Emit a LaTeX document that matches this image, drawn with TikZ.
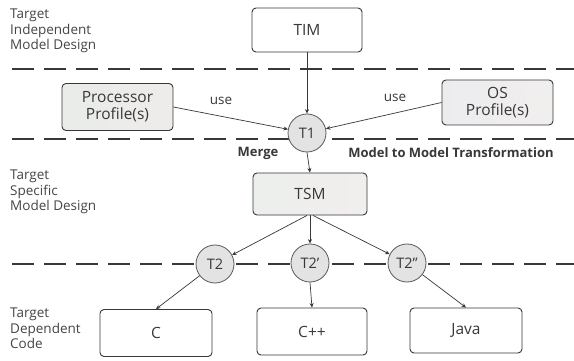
\documentclass[tikz,border=0pt]{standalone}
\usepackage{fontspec}
\setmainfont{Open Sans}
\usetikzlibrary{arrows.meta}
\definecolor{ink}{HTML}{383838}
\definecolor{lblc}{HTML}{454545}
\begin{document}
\begin{tikzpicture}[x=1pt,y=-1pt,
  box/.style={draw=ink, rounded corners=4pt, line width=0.9pt, minimum width=110pt, minimum height=44pt, align=center, font=\fontsize{15.5}{17}\selectfont, text=ink, inner sep=1pt},
  tcirc/.style={circle, draw=gray!70!black, fill=gray!22, minimum size=38pt, inner sep=0pt, font=\fontsize{14.5}{16}\selectfont, text=ink, line width=0.8pt},
  sepline/.style={draw=ink, line width=2.4pt, dash pattern=on 22pt off 10pt},
  lbl/.style={anchor=north west, align=left, font=\fontsize{13.5}{15.5}\selectfont, text=lblc, inner sep=0pt},
  small/.style={font=\fontsize{13}{15}\selectfont\bfseries, text=ink, inner sep=0pt},
  usel/.style={font=\fontsize{13.5}{15}\selectfont, text=ink, inner sep=0pt},
  conn/.style={draw=ink, line width=0.7pt, -{Stealth[length=4.5pt,width=4pt]}}
]
\useasboundingbox[fill=white] (0,0) rectangle (574,361);

% separators
\draw[sepline] (12,69) -- (574,69);
\draw[sepline] (12,139) -- (574,139);
\draw[sepline] (12,264) -- (574,264);

% side labels
\node[lbl] (lbl1) at (10,9) {Target\\Independent\\Model Design};
\node[lbl] (lbl2) at (10,170) {Target\\Specific\\Model Design};
\node[lbl] (lbl3) at (10,308) {Target\\Dependent\\Code};

% nodes
\node[box] (TIM) at (307,30) {TIM};
\node[box, minimum width=111pt, minimum height=47pt, left color=green!8!gray!16, right color=red!10!gray!14] (PP) at (117.5,107) {Processor\\Profile(s)};
\node[box, minimum width=111pt, minimum height=45pt, left color=red!14!blue!8!gray!14, right color=green!6!red!12!gray!12] (OS) at (497.5,102.5) {OS\\Profile(s)};
\node[tcirc] (T1) at (307,133) {T1};
\node[box, minimum width=114pt, minimum height=42pt, left color=green!10!gray!14, right color=red!12!gray!12] (TSM) at (310,194) {TSM};
\node[tcirc] (T2) at (215,264) {T2};
\node[tcirc] (T2a) at (310,263) {T2’};
\node[tcirc] (T2b) at (407,263) {T2”};
\node[box, minimum width=112pt, minimum height=47pt] (C) at (156,333) {C};
\node[box, minimum width=110pt, minimum height=47pt] (Cpp) at (312,331.5) {C++};
\node[box, minimum width=112pt, minimum height=45pt] (Java) at (466,330.5) {Java};

% labels
\node[usel] (use1) at (221,101) {use};
\node[usel] (use2) at (395,98) {use};
\node[small] (merge) at (258,153) {Merge};
\node[small] (m2m) at (451,153) {Model to Model Transformation};

% connectors
\draw[conn] (TIM.south) -- (T1.north);
\draw[conn] (PP.east) -- (T1);
\draw[conn] (OS.west) -- (T1);
\draw[conn] (T1.south) -- (TSM.north);
\draw[conn] ([xshift=-3pt]TSM.south) -- (T2);
\draw[conn] (TSM.south) -- (T2a.north);
\draw[conn] ([xshift=3pt]TSM.south) -- (T2b);
\draw[conn] (T2) -- (C.north);
\draw[conn] (T2a.south) -- (Cpp.north);
\draw[conn] (T2b) -- (Java.north);
\end{tikzpicture}
\end{document}
